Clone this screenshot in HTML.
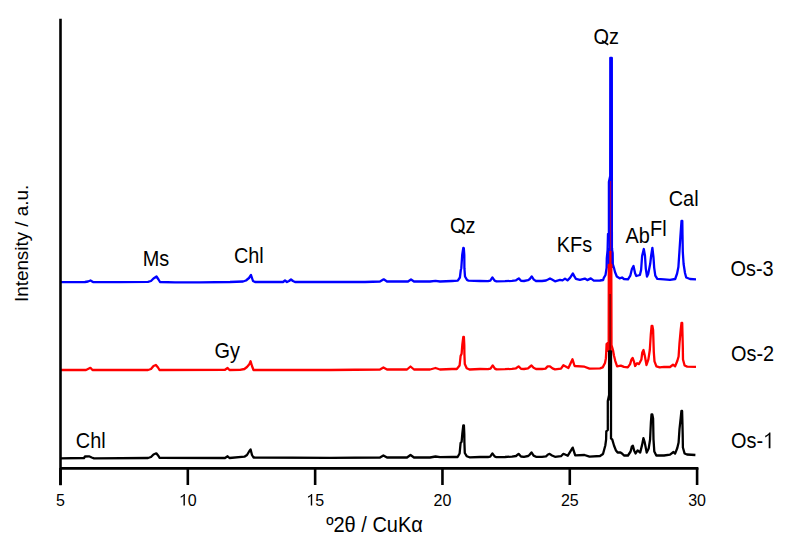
<!DOCTYPE html>
<html><head><meta charset="utf-8"><style>
html,body{margin:0;padding:0;background:#fff;width:805px;height:554px;overflow:hidden}
svg{display:block;font-family:"Liberation Sans",sans-serif}
</style></head><body>
<svg width="805" height="554" viewBox="0 0 805 554">
<rect width="805" height="554" fill="#fff"/>
<g fill="none" stroke-linejoin="round" stroke-width="2.3">
<polyline stroke="#0000ff" points="60,282.2 85,282 88,281.5 90.5,280.5 93,282 120,282.2 148,281.8 151,281 153.5,278.5 156.5,276.5 158.5,279.5 160,282 175,282.3 200,282.3 230,282 243,281.5 246,280.5 249,278 251,275 253,281 255,282 283,282 285,280.5 287,282 289,281 291,279.5 293,281 295,282 330,282 365,282 380,281.5 383.7,279.3 387,281.5 408,281.5 411,279.5 414,281.5 430,281.5 435.5,280.8 440,281.5 452,281 457.8,280.7 459.9,277.5 460.8,270 461.3,268.2 462.2,255 463.3,247.8 463.8,248 464.3,255 464.4,268.2 465,276.5 467,279.9 468.6,280.7 480,281 488,281.2 490.3,280.6 492.4,277.4 494.6,280.6 496.5,281.3 505,281.2 512,280.8 516,280.3 518.8,278.4 521,280.8 524,281 528,280.2 529.8,279 531.7,276.4 533.8,279.6 536,281 542,281 546,280.5 548.5,279.3 550,278.5 552,279.6 555,281.3 560,279.9 562.5,280.4 565,278.6 567.5,280.4 570,277.9 572.9,273.5 574.4,276.4 575.9,278.9 579.9,279.9 584.8,278.6 587.3,280.1 590.8,278.4 593.8,280.6 600,280.5 603.2,280 603.8,277.8 605.5,275 606.6,268 606.8,258 607.6,250 608,234 608.9,233 608.9,182 610.2,176 610.3,58 611.8,58 611.9,250 612.6,253 612.8,264 614,268 615,272 616.8,276.5 619.6,278.3 622,277.5 624,279 628,279.3 630.3,275.7 631.9,269 633.5,266 635.1,273.3 636.3,276 639.9,275 641.1,270 642.1,256 643.8,249 645,256 645.8,268.6 647,276.5 648.2,274 650.2,263.8 651.1,256 652.4,247.8 653.5,257.5 654.2,267.8 655.3,275.7 657.3,278.9 664,279.3 670,279.8 675.2,279 677.1,273.5 678.4,267 679.4,252 680.5,235 681.5,221 682.3,221 682.5,235 682.8,252 683.6,264 685,273 686.2,277.5 690,279 696,279.3"/>
<rect x="608.6" y="180" width="3.4" height="80" fill="#0000ff" stroke="none"/><rect x="607.4" y="248" width="5.8" height="20" fill="#0000ff" stroke="none"/>
<polyline stroke="#ff0000" points="60,370 86,370 88,369 90.4,367.8 92.5,370 148,370 151,369 153.5,366 155.9,365 158,367.5 159.5,370 225,369.8 227.6,368 229.5,370 240,369.8 244.4,369 247,367 249.5,364 250.6,361.2 252,366 253.5,370 330,370 380,369.5 383.4,367.5 387,369.5 407,369.5 410.5,366.5 414,369.5 430,369.5 435.5,368 440,369.5 452,369 456.8,369 459.6,365.5 460.6,356 461.6,353.8 462.3,345 463.3,337 463.9,337 464.3,345 464.4,354 464.8,364 466.7,368.2 469.5,369.5 480,369 488,369.2 490.5,368.6 492.7,365.4 494.9,368.6 496.5,369.4 505,369.2 512,368.8 516,368.3 518.6,366.4 521,368.8 524,369 528,368.3 529.6,367 531.5,365.4 533.6,367.8 536,369 542,369 545.5,368.6 547.6,366.4 550,366.4 552.5,368.4 555,369.4 561,368.6 563.4,365.3 568.4,368 572.5,359.3 574.6,366 584.5,366.7 589.5,368.6 600,368.3 602.7,367.4 605,363 605.9,358.4 606.3,351 606.6,344 608.7,342 608.8,265 611.3,265 611.5,345 613,350.3 614,355.7 615.3,361.1 617.1,366.3 620.8,365.6 624,366.9 627.8,367.4 630.1,364.1 631.5,359.4 632.6,358 633.9,361.3 635.1,366 637.1,363.2 639,364.1 641.4,359.4 642.3,352.5 643.5,350 644.8,355.7 646.5,365 648.4,359.4 649.8,350 650.8,334.5 651.6,326 652.4,326 653.1,330 653.8,352 654.5,361.3 656.4,366.3 659.7,367.3 664,366.9 670,367 673,364.8 675.1,366.3 677.3,361 678.6,356.5 679.5,343 680.7,330 681.5,323 682.2,323 682.5,335 682.8,346.5 683,359.5 684.6,365.5 687.2,366.6 696,366.8"/>
<rect x="608.7" y="265" width="2.8" height="87" fill="#ff0000" stroke="none"/><rect x="609.3" y="251" width="2.2" height="15" fill="#ff0000" stroke="none"/><rect x="606.6" y="343" width="5" height="9" fill="#ff0000" stroke="none"/>
<line x1="610.5" y1="181" x2="610.5" y2="252" stroke="#ff0000" stroke-opacity="0.6" stroke-width="1.3"/>
<polyline stroke="#000" points="60,458.3 84,458 85,456.5 89,456.3 91.7,457.5 94,458.3 148,458 151,457 153.5,454.5 156.3,453.3 158.5,456 159.5,457.8 225,458 227.6,456.3 229.5,458 244.4,456.7 247,455 249.4,451 250.6,449.5 252,455 253.5,457.5 330,457.8 380,457.5 383.4,455.4 387,457.5 407,457.5 410.5,455 414,457.5 430,457.5 435.5,456.5 440,457.2 452,457 457.6,457 459.6,453.5 460.6,443 461.6,441.8 462.3,434 463.3,425.4 463.9,425.4 464.3,434 464.4,442 464.8,453 466.7,456.2 469.5,457.3 480,457 488,457 490.2,456.6 492.4,453.4 494.6,456.4 496.5,457.2 505,457 512,456.6 516,456 518.6,453.9 521,456.5 524,456.8 528,456 529.6,454.8 531.5,452.4 533.6,455.6 536,456.8 542,456.8 546,456.4 548,454.5 549.6,453.9 552,455.5 555,456.8 561,456.2 563.4,453.8 567.8,455.7 572.7,447.6 575.2,455.3 584.5,455 589.5,456.7 600,456 603,454 605.3,445.5 606.1,439.6 606.3,431.4 607.8,430 607.8,401 609.1,395 609.1,351.5 611,351.5 611,438.4 612.3,439.6 614,445.5 615.8,450.2 617.6,452.5 620.5,452.5 622.3,453.7 624,455.5 628,455.5 630.6,451.5 631.9,446.4 632.9,445.8 634.1,450.4 635.6,453.5 637.6,450.4 640.2,452.5 642.2,444.4 643.4,438.2 644.7,442.4 646.7,452.5 648.7,448.4 650.1,439.3 650.9,422.5 651.5,414.5 652.3,414.5 653.1,418.5 653.5,439.3 654.3,451.5 656.3,455.5 664,455.5 670,454.6 673.5,452 675.1,453.6 677.3,448 678.6,442.5 679.5,429 680.7,418 681.4,411 682.1,411 682.4,422 682.7,434.5 682.9,447.5 684.6,453.5 687,454.5 695.4,455"/>
<rect x="609.1" y="351.5" width="1.9" height="49" fill="#000" stroke="none"/>
<line x1="610.1" y1="294" x2="610.1" y2="352" stroke="#000" stroke-opacity="0.6" stroke-width="1.2"/>
</g>
<g stroke="#000" stroke-width="2.6" fill="none">
<line x1="60.5" y1="18.8" x2="60.5" y2="485.3"/>
<line x1="60.5" y1="468.4" x2="698.4" y2="468.4"/>
<line x1="60.50" y1="468" x2="60.50" y2="485"/><line x1="187.82" y1="468" x2="187.82" y2="485"/><line x1="315.14" y1="468" x2="315.14" y2="485"/><line x1="442.46" y1="468" x2="442.46" y2="485"/><line x1="569.78" y1="468" x2="569.78" y2="485"/><line x1="697.10" y1="468" x2="697.10" y2="485"/>
</g>
<g font-size="16" text-anchor="middle" fill="#000"><text x="60.50" y="505.5">5</text><path d="M184.88,505.50 L184.88,494.05 L183.97,494.05 C183.61,494.72 182.67,495.66 180.66,496.44 L180.66,497.77 C181.89,497.30 182.83,496.67 183.48,495.97 L183.48,505.50 Z" fill="#000"/><text x="187.82" y="505.5" text-anchor="start">0</text><path d="M312.20,505.50 L312.20,494.05 L311.29,494.05 C310.93,494.72 309.99,495.66 307.98,496.44 L307.98,497.77 C309.21,497.30 310.15,496.67 310.80,495.97 L310.80,505.50 Z" fill="#000"/><text x="315.14" y="505.5" text-anchor="start">5</text><text x="442.46" y="505.5">20</text><text x="569.78" y="505.5">25</text><text x="697.10" y="505.5">30</text></g>
<g fill="#000"><text font-size="22.10" transform="translate(142.70,265.90) scale(0.900,1)">Ms</text><text font-size="22.10" transform="translate(233.95,262.90) scale(0.900,1)">Chl</text><text font-size="22.10" transform="translate(450.10,233.20) scale(0.900,1)">Oz</text><text font-size="22.10" transform="translate(556.85,251.80) scale(0.900,1)">KFs</text><text font-size="22.10" transform="translate(593.45,44.15) scale(0.900,1)">Oz</text><text font-size="22.10" transform="translate(625.45,243.40) scale(0.900,1)">Ab</text><text font-size="22.10" transform="translate(650.05,236.30) scale(0.900,1)">Fl</text><text font-size="22.10" transform="translate(668.75,205.90) scale(0.900,1)">Cal</text><text font-size="22.10" transform="translate(214.45,357.50) scale(0.900,1)">Gy</text><text font-size="22.10" transform="translate(75.85,447.90) scale(0.900,1)">Chl</text><text font-size="22.10" transform="translate(730.50,275.90) scale(0.900,1)">Os-3</text><text font-size="22.10" transform="translate(731.00,360.90) scale(0.900,1)">Os-2</text><text font-size="22.10" transform="translate(731.00,448.20) scale(0.900,1)">Os-</text></g><line x1="458.65" y1="229.66" x2="464.89" y2="233.73" stroke="#000" stroke-width="1.7"/><line x1="602.00" y1="40.61" x2="608.24" y2="44.68" stroke="#000" stroke-width="1.7"/><path d="M770.45,448.20 L770.45,432.38 L769.31,432.38 C768.87,433.31 767.70,434.60 765.21,435.68 L765.21,437.52 C766.73,436.87 767.90,436.01 768.70,435.03 L768.70,448.20 Z" fill="#000"/>
<text font-size="21.4" fill="#000" transform="translate(326.2,532) scale(0.935,1)">º2θ / CuKα</text>
<text font-size="18" fill="#000" transform="translate(27.7,302.0) rotate(-90) scale(1.047,1)">Intensity / a.u.</text>
</svg>
</body></html>
